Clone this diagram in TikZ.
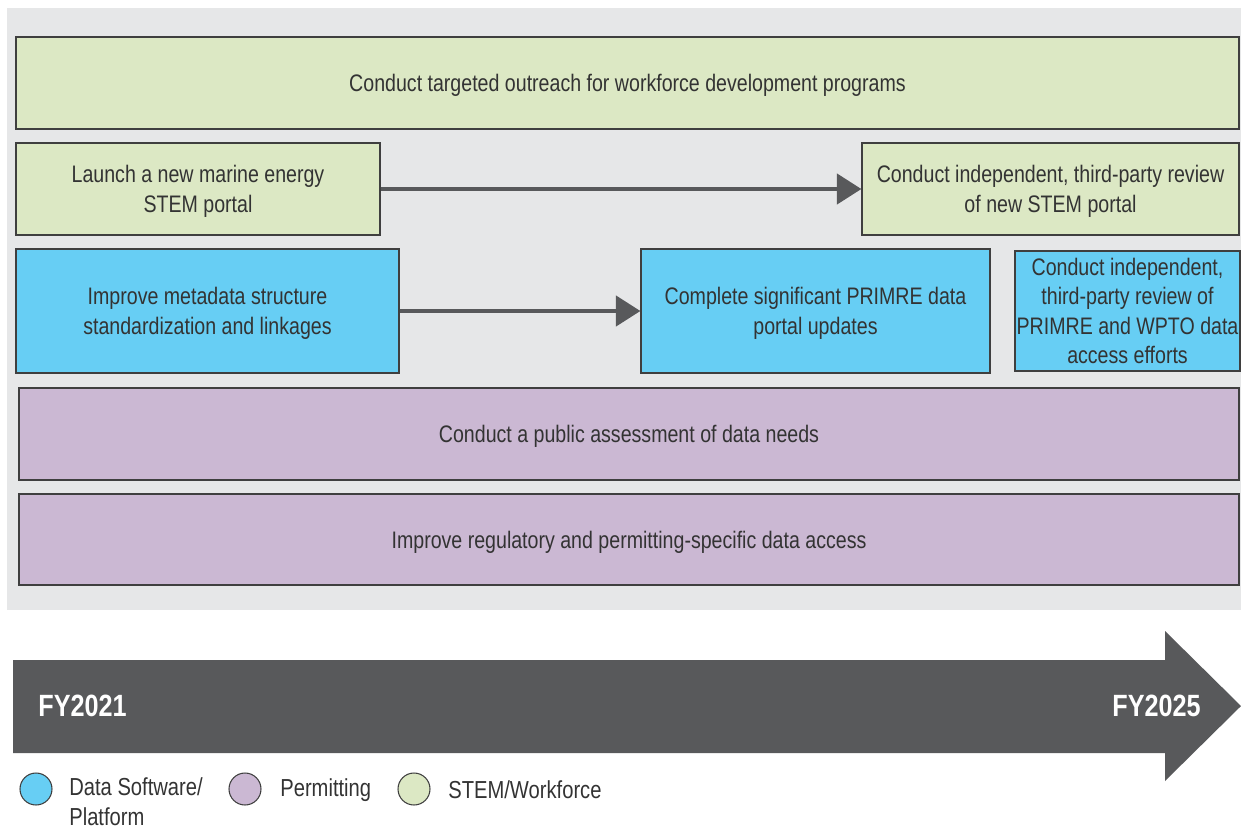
\documentclass[tikz,border=0pt]{standalone}
\usepackage{fontspec}
\setmainfont{Liberation Sans}[FakeStretch=0.82]
\usetikzlibrary{arrows.meta, positioning}
\definecolor{bggray}{HTML}{E6E7E8}
\definecolor{arrowgray}{HTML}{58595B}
\definecolor{stemgreen}{HTML}{DCE8C4}
\definecolor{databLue}{HTML}{67CEF4}
\definecolor{permitpurple}{HTML}{CBB8D3}
\definecolor{edgegray}{HTML}{3F3F3F}
\definecolor{textgray}{HTML}{333333}
\tikzset{
  task/.style={draw=edgegray, line width=0.6pt, inner sep=0pt, align=center,
    text=textgray, font=\fontsize{13.6}{16.8}\selectfont, text depth=-5.5pt},
  wh/.style 2 args={minimum width=#1*0.02cm, minimum height=#2*0.02cm},
  stem/.style={task, fill=stemgreen},
  data/.style={task, fill=databLue},
  permit/.style={task, fill=permitpurple},
  flow/.style={arrowgray, line width=2.8pt, -{Triangle[length=14pt, width=17pt]}},
  legdot/.style={circle, draw=edgegray, line width=0.6pt, minimum size=32*0.02cm, inner sep=0pt},
  legtext/.style={align=left, inner sep=0pt, text=textgray, font=\fontsize{14}{17}\selectfont},
  year/.style={text=white, inner sep=0pt, font=\fontsize{17.5}{20}\selectfont\bfseries}
}
\begin{document}
\begin{tikzpicture}[x=0.02cm, y=-0.02cm]
\useasboundingbox (0,0) rectangle (1241,829);
\fill[bggray] (7,8) rectangle (1241,610);

% STEM / workforce
\node[stem, wh={1223}{92}] (outreach) at (627.5,83) {Conduct targeted outreach for workforce development programs};
\node[stem, wh={364}{92}] (launch) at (198,189) {Launch a new marine energy\\STEM portal};
\node[stem, wh={377}{92}] (stemreview) at (1050.5,189) {Conduct independent, third-party review\\of new STEM portal};

% data software / platform
\node[data, wh={383}{124}] (metadata) at (207.5,311) {Improve metadata structure\\standardization and linkages};
\node[data, wh={349}{124}] (primre) at (815.5,311) {Complete significant PRIMRE data\\portal updates};
\node[data, wh={225}{120}] (datareview) at (1127.5,311) {Conduct independent,\\third-party review of\\PRIMRE and WPTO data\\access efforts};

% permitting
\node[permit, wh={1220}{92}] (needs) at (629,434) {Conduct a public assessment of data needs};
\node[permit, wh={1220}{91}] (access) at (629,539.5) {Improve regulatory and permitting-specific data access};

\draw[flow] (launch) -- (stemreview);
\draw[flow] (metadata) -- (primre);

% timeline arrow
\fill[arrowgray] (13,660) -- (1165,660) -- (1165,631) -- (1241,706) -- (1165,781) -- (1165,753) -- (13,753) -- cycle;
\node[year, anchor=west] (start) at (38,706) {FY2021};
\node[year, anchor=east] (finish) at (1201,706) {FY2025};

% legend
\node[legdot, fill=databLue] (ldata) at (36,789) {};
\node[legtext, anchor=north west] (tdata) at (69,777) {Data Software/\\Platform};
\node[legdot, fill=permitpurple] (lpermit) at (245,789) {};
\node[legtext, anchor=west] (tpermit) at (280,790) {Permitting};
\node[legdot, fill=stemgreen] (lstem) at (414,789) {};
\node[legtext, anchor=west] (tstem) at (448,790) {STEM/Workforce};
\end{tikzpicture}
\end{document}
